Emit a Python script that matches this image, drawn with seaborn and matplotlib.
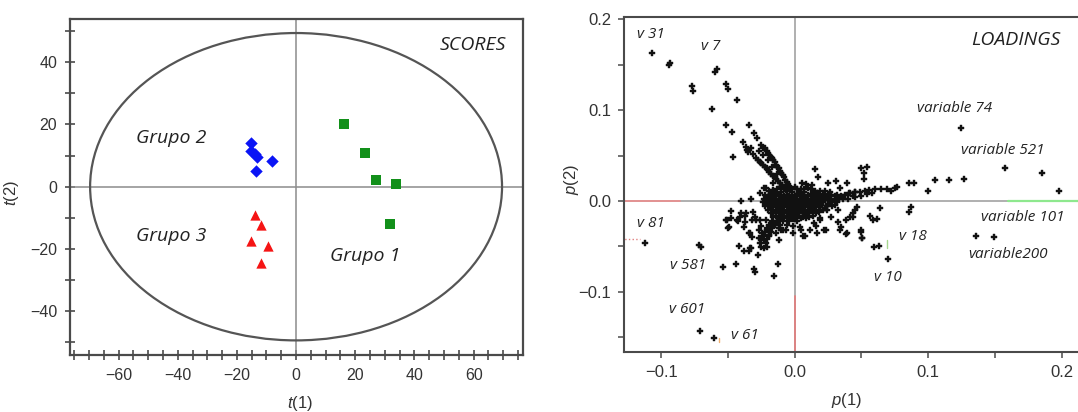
import numpy as np
import pandas as pd
import matplotlib
matplotlib.use("Agg")
import matplotlib.pyplot as plt
from matplotlib.patches import Ellipse
from matplotlib.ticker import MultipleLocator, FixedLocator, FuncFormatter
import seaborn as sns

# ---------------- data: SCORES ----------------
g1_x = [16.3, 23.3, 27.0, 33.9, 31.7]
g1_y = [20.0, 10.9, 2.3, 0.8, -12.0]
g2_x = [-15.2, -15.4, -14.0, -13.1, -8.3, -13.6]
g2_y = [14.0, 11.6, 10.5, 9.7, 8.2, 5.1]
g3_x = [-13.8, -11.7, -15.4, -9.4, -11.7]
g3_y = [-9.1, -12.4, -17.5, -19.0, -24.4]
group_names = ["Grupo 1", "Grupo 2", "Grupo 3"]

# ---------------- data: LOADINGS ----------------
outer_x = [-0.1068, -0.0935, -0.094, -0.0768, -0.076, -0.060, -0.0585, -0.0518, -0.050, -0.0435,
           -0.0623, -0.0515, -0.034, -0.0467, -0.0305, -0.028, -0.039, -0.0368, -0.035, -0.046,
           -0.025, -0.0238, -0.1125, -0.0718, -0.0705, -0.0418, -0.0343, -0.033, -0.0275, -0.0535,
           -0.044, -0.0305, -0.030, -0.0713, -0.0605, -0.0129, -0.0157,
           0.1243, 0.1577, 0.1852, 0.1978, 0.1356, 0.1495, 0.1268, 0.1158, 0.105, 0.100, 0.0895,
           0.0858, 0.0697, 0.0858, 0.0875]
outer_y = [0.163, 0.152, 0.150, 0.127, 0.121, 0.142, 0.145, 0.129, 0.123, 0.111,
           0.101, 0.084, 0.084, 0.076, 0.0746, 0.069, 0.065, 0.060, 0.054, 0.049,
           0.0617, 0.058, -0.0466, -0.0485, -0.051, -0.0496, -0.0547, -0.052, -0.0595, -0.0723,
           -0.0697, -0.075, -0.078, -0.1435, -0.151, -0.0697, -0.083,
           0.080, 0.0367, 0.0312, 0.0113, -0.0385, -0.0393, 0.0242, 0.023, 0.023, 0.0113, 0.0195,
           0.020, -0.0638, -0.0124, -0.007]

arm_x = [-0.029, -0.026, -0.024, -0.021, -0.019, -0.016, -0.014, -0.011, -0.008,
         -0.022, -0.020, -0.018, -0.016, -0.014, -0.012, -0.010, -0.008, -0.006, -0.004,
         -0.036, -0.031, -0.027, -0.024, -0.020, -0.033, -0.017, -0.013,
         -0.0275, -0.025, -0.0225, -0.020, -0.0175, -0.015, -0.0125, -0.0095, -0.0065,
         -0.021, -0.019, -0.017, -0.015, -0.013, -0.011, -0.009, -0.007, -0.005, -0.003]
arm_y = [0.047, 0.043, 0.040, 0.036, 0.032, 0.028, 0.024, 0.020, 0.015,
         0.058, 0.053, 0.049, 0.045, 0.040, 0.036, 0.031, 0.026, 0.021, 0.016,
         0.056, 0.052, 0.055, 0.051, 0.045, 0.058, 0.037, 0.030,
         0.045, 0.0415, 0.038, 0.034, 0.030, 0.026, 0.022, 0.0175, 0.0125,
         0.0555, 0.051, 0.047, 0.0425, 0.038, 0.0335, 0.0285, 0.0235, 0.0185, 0.013]

mid_x = [-0.023, -0.0405, -0.0325, -0.048, -0.051, -0.0435, -0.049, -0.038, -0.0375, -0.031,
         -0.029, -0.0335, -0.0255, -0.0363, -0.041, -0.0213, -0.0163, -0.0175, -0.026,
         -0.027, -0.0244, -0.0232, -0.0219, -0.0193, -0.027, -0.025, -0.0206, -0.018, -0.0141,
         -0.0116, -0.0103, -0.0141, -0.0116, -0.0219, -0.0257, -0.0296, -0.0322, -0.0373, -0.0424,
         -0.0476, -0.0515, -0.0502, -0.0399, -0.0342, -0.0334, -0.0378, -0.0322, -0.0232, -0.0206,
         0.0064, -0.0013, -0.0064, 0.0039, 0.0116, 0.0141, 0.0193, 0.027, 0.0322, 0.0347,
         0.0386, 0.0412, 0.0437, 0.045, 0.0463, 0.0322, 0.0244, 0.0219, 0.0167, 0.0386,
         0.0494, 0.0502, 0.0438, 0.050, 0.0505, 0.0593, 0.0633, 0.0563, 0.0588, 0.0617, 0.0638,
         0.005, 0.0075, -0.0013, -0.0088, -0.0163, 0.0163, 0.0238, 0.0338, 0.0388, 0.0088, 0.0188,
         0.015, 0.0175, 0.0058, 0.0088, 0.0133, 0.025, 0.0313, 0.0388, 0.0338, 0.0263, 0.0413,
         0.045, 0.050, 0.0538, 0.0518, 0.0518,
         0.041, 0.045, 0.049, 0.0525, 0.056, 0.060, 0.065, 0.0688, 0.0725, 0.0763, 0.075,
         0.045, 0.038, 0.036, 0.040, 0.044, 0.050, 0.054, 0.058]
mid_y = [0.014, 0.0003, 0.002, -0.0107, -0.021, -0.021, -0.029, -0.029, -0.017, -0.012,
         -0.021, -0.035, -0.028, -0.0135, -0.0173, 0.014, 0.0195, 0.0085, 0.0085,
         -0.0318, -0.0355, -0.0429, -0.0466, -0.0374, -0.0411, -0.0503, -0.0318, -0.0282, -0.0246,
         -0.0209, -0.0318, -0.0355, -0.0429, -0.0209, -0.0209, -0.0172, -0.0209, -0.0227, -0.0216,
         -0.019, -0.0209, -0.030, -0.0136, -0.0355, -0.052, -0.0546, -0.0392, -0.052, -0.0503,
         -0.0385, -0.0355, -0.0318, -0.0282, -0.0318, -0.0246, -0.019, -0.0172, -0.0227, -0.0282,
         -0.0209, -0.0172, -0.0136, -0.0099, -0.0062, -0.0099, -0.0099, -0.0318, -0.0355, -0.036,
         -0.0319, -0.0411, -0.018, -0.0338, -0.041, -0.0503, -0.049, -0.0165, -0.021, -0.020, -0.008,
         -0.032, -0.039, -0.028, -0.032, -0.0246, -0.028, -0.032, -0.032, -0.0356, -0.019, -0.021,
         0.0349, 0.0268, 0.0195, 0.0187, 0.0176, 0.0195, 0.0224, 0.0195, 0.014, 0.0103, 0.0085,
         0.0103, 0.036, 0.0378, 0.0312, 0.0242,
         0.0085, 0.010, 0.0096, 0.011, 0.012, 0.013, 0.0129, 0.013, 0.0113, 0.0157, 0.014,
         0.0047, 0.007, 0.004, 0.002, 0.006, 0.005, 0.008, 0.009]

core_x = [-0.016, -0.011, -0.006, 0.000, 0.005, 0.010, 0.015,
          -0.018, -0.014, -0.010, -0.006, -0.002, 0.003, 0.007, 0.012, 0.017, 0.021, 0.026,
          -0.020, -0.016, -0.012, -0.008, -0.004, 0.000, 0.004, 0.008, 0.012, 0.016, 0.020, 0.025, 0.030, 0.035,
          -0.021, -0.017, -0.013, -0.009, -0.005, -0.001, 0.003, 0.007, 0.011, 0.015, 0.019, 0.023, 0.028, 0.033,
          -0.020, -0.016, -0.012, -0.008, -0.004, 0.000, 0.004, 0.008, 0.012, 0.016, 0.020, 0.025, 0.030,
          -0.018, -0.014, -0.010, -0.006, -0.002, 0.002, 0.006, 0.010, 0.014, 0.018, 0.023,
          -0.016, -0.012, -0.008, -0.004, 0.000, 0.004, 0.008, 0.013, 0.018,
          -0.014, -0.010, -0.006, -0.002, 0.003, 0.008, 0.014,
          -0.011, -0.006, -0.001, 0.005]
core_y = [0.012, 0.015, 0.016, 0.015, 0.013, 0.014, 0.011,
          0.008, 0.009, 0.010, 0.011, 0.010, 0.009, 0.010, 0.008, 0.009, 0.007, 0.008,
          0.004, 0.005, 0.006, 0.005, 0.006, 0.005, 0.006, 0.004, 0.005, 0.004, 0.005, 0.004, 0.005, 0.006,
          0.000, 0.001, 0.000, 0.001, 0.000, 0.001, 0.000, 0.001, 0.000, 0.001, 0.000, 0.001, 0.000, 0.002,
          -0.004, -0.003, -0.004, -0.003, -0.004, -0.003, -0.004, -0.003, -0.004, -0.003, -0.004, -0.003, -0.004,
          -0.008, -0.007, -0.008, -0.007, -0.008, -0.007, -0.008, -0.007, -0.008, -0.007, -0.008,
          -0.012, -0.011, -0.012, -0.011, -0.012, -0.011, -0.012, -0.011, -0.012,
          -0.016, -0.015, -0.016, -0.015, -0.016, -0.015, -0.016,
          -0.020, -0.019, -0.020, -0.019]

core2_x = [-0.013, -0.008, -0.003, 0.002, 0.007, 0.012,
           -0.019, -0.016, 0.019, 0.023,
           -0.022, -0.018, -0.014, -0.010, -0.006, -0.002, 0.002, 0.006, 0.010, 0.014, 0.018, 0.022, 0.027, 0.032,
           -0.023, -0.019, -0.015, -0.011, -0.007, -0.003, 0.001, 0.005, 0.009, 0.013, 0.017, 0.021, 0.025, 0.030, 0.036,
           -0.024, -0.019, -0.015, -0.011, -0.007, -0.003, 0.001, 0.005, 0.009, 0.013, 0.017, 0.021, 0.027, 0.032,
           -0.022, -0.017, -0.013, -0.009, -0.005, -0.001, 0.003, 0.007, 0.011, 0.015, 0.019, 0.024, 0.028,
           -0.020, -0.016, -0.012, -0.008, -0.004, 0.000, 0.004, 0.008, 0.012, 0.016, 0.021,
           -0.018, -0.014, -0.010, -0.006, -0.002, 0.002, 0.006, 0.011, 0.016,
           -0.016, -0.012, -0.008, -0.004, 0.001, 0.006, 0.011,
           -0.017, -0.013, -0.009, -0.004, 0.002,
           -0.019, -0.015, -0.011, -0.006,
           -0.021, -0.017, -0.012,
           -0.022, -0.018, -0.024, -0.019, -0.025, -0.021, -0.026]
core2_y = [0.0135, 0.0135, 0.0135, 0.0135, 0.0135, 0.0135,
           0.0105, 0.0105, 0.0105, 0.0105,
           0.0065, 0.0065, 0.0065, 0.0065, 0.0065, 0.0065, 0.0065, 0.0065, 0.0065, 0.0065, 0.0065, 0.0065, 0.0065, 0.0065,
           0.0025, 0.0025, 0.0025, 0.0025, 0.0025, 0.0025, 0.0025, 0.0025, 0.0025, 0.0025, 0.0025, 0.0025, 0.0025, 0.0025, 0.0025,
           -0.0015, -0.0015, -0.0015, -0.0015, -0.0015, -0.0015, -0.0015, -0.0015, -0.0015, -0.0015, -0.0015, -0.0015, -0.0015, -0.0015,
           -0.0055, -0.0055, -0.0055, -0.0055, -0.0055, -0.0055, -0.0055, -0.0055, -0.0055, -0.0055, -0.0055, -0.0055, -0.0055,
           -0.0095, -0.0095, -0.0095, -0.0095, -0.0095, -0.0095, -0.0095, -0.0095, -0.0095, -0.0095, -0.0095,
           -0.0135, -0.0135, -0.0135, -0.0135, -0.0135, -0.0135, -0.0135, -0.0135, -0.0135,
           -0.0175, -0.0175, -0.0175, -0.0175, -0.0175, -0.0175, -0.0175,
           -0.022, -0.022, -0.022, -0.022, -0.022,
           -0.026, -0.026, -0.026, -0.026,
           -0.030, -0.030, -0.030,
           -0.034, -0.034, -0.038, -0.038, -0.042, -0.042, -0.046]

label_text = ["v 31", "v 7", "variable 74", "variable 521", "variable 101", "variable200",
              "v 81", "v 18", "v 581", "v 10", "v 601", "v 61"]
label_x = [-0.1075, -0.063, 0.120, 0.156, 0.171, 0.1595, -0.108, 0.0882, -0.0798, 0.0695, -0.0805, -0.0373]
label_y = [0.183, 0.170, 0.102, 0.0554, -0.018, -0.0584, -0.0253, -0.0393, -0.0712, -0.084, -0.119, -0.1476]

# ---------------- style ----------------
sns.set_style("white")
plt.rcParams["font.family"] = ["Liberation Sans", "DejaVu Sans"]
plt.rcParams["mathtext.fontset"] = "custom"
plt.rcParams["mathtext.it"] = "Liberation Sans:italic"
plt.rcParams["mathtext.rm"] = "Liberation Sans"

fig = plt.figure(figsize=(10.78, 4.12), dpi=100)
ax1 = fig.add_axes([0.0652, 0.1383, 0.4200, 0.8155])
ax2 = fig.add_axes([0.5788, 0.1456, 0.4212, 0.8143])

spine_c = "#4a4a4a"
tick_c = "#333333"

# ---------------- SCORES ----------------
scores = pd.DataFrame({
    "t1": g1_x + g2_x + g3_x,
    "t2": g1_y + g2_y + g3_y,
    "group": [group_names[0]] * len(g1_x) + [group_names[1]] * len(g2_x) + [group_names[2]] * len(g3_x),
})
ax1.axhline(0, color="#8c8c8c", lw=1.1, zorder=1)
ax1.axvline(0, color="#8c8c8c", lw=1.1, zorder=1)
ax1.add_patch(Ellipse((0, 0), 2 * 69.6, 2 * 49.4, fill=False, edgecolor="#555555", lw=1.6, zorder=2))
sizes = {"Grupo 1": 48, "Grupo 2": 40, "Grupo 3": 55}
for g, m, c in zip(group_names, ["s", "D", "^"], ["#12901a", "#0a14f5", "#f51414"]):
    sns.scatterplot(data=scores[scores.group == g], x="t1", y="t2", marker=m, color=c,
                    s=sizes[g], linewidth=0, ax=ax1, zorder=3, legend=False)
ax1.set_xlim(-76.3, 76.7)
ax1.set_ylim(-54.1, 53.9)
ax1.set_xticks([-60, -40, -20, 0, 20, 40, 60])
ax1.xaxis.set_minor_locator(MultipleLocator(5))
ax1.set_yticks([-40, -20, 0, 20, 40])
ax1.yaxis.set_minor_locator(MultipleLocator(10))
ax1.tick_params(axis="both", which="both", direction="inout", length=7, width=1.2,
                color=spine_c, labelsize=11.5, labelcolor=tick_c, bottom=True, left=True, pad=6)
for sp in ax1.spines.values():
    sp.set_color(spine_c)
    sp.set_linewidth(1.6)
ax1.set_xlabel("$t$(1)", fontsize=12, color=tick_c)
ax1.set_ylabel("$t$(2)", fontsize=12, color=tick_c)
ax1.xaxis.set_label_coords(0.507, -0.117)
ax1.yaxis.set_label_coords(-0.108, 0.482)

tfont = dict(family=["Open Sans", "DejaVu Sans"], style="italic", color="#222222")
ax1.text(59.6, 45.7, "SCORES", fontsize=14, ha="center", va="center", **tfont)
ax1.text(-42.3, 15.8, "Grupo 2", fontsize=14, ha="center", va="center", **tfont)
ax1.text(-42.3, -15.9, "Grupo 3", fontsize=14, ha="center", va="center", **tfont)
ax1.text(23.3, -22.4, "Grupo 1", fontsize=14, ha="center", va="center", **tfont)

# ---------------- LOADINGS ----------------
load = pd.DataFrame({
    "p1": outer_x + arm_x + mid_x + core_x + core2_x,
    "p2": outer_y + arm_y + mid_y + core_y + core2_y,
})
ax2.axhline(0, color="#9a9a9a", lw=1.1, zorder=1)
ax2.axvline(0, color="#9a9a9a", lw=1.1, zorder=1)
ax2.plot([-0.13, -0.086], [0, 0], color="#e89090", lw=1.3, zorder=1.5)
ax2.plot([0.160, 0.22], [0, 0], color="#8ee88e", lw=1.6, zorder=1.5)
ax2.plot([0, 0], [-0.105, -0.17], color="#e08080", lw=1.3, zorder=1.5)
ax2.plot([-0.13, -0.116], [-0.042, -0.042], color="#e08080", lw=1.0, ls=":", zorder=1.5)
ax2.plot([0.0688, 0.0688], [-0.043, -0.052], color="#a8d890", lw=1.0, zorder=1.5)
ax2.plot([-0.0565, -0.0565], [-0.151, -0.155], color="#f0b070", lw=1.0, zorder=1.5)
sns.scatterplot(data=load, x="p1", y="p2", marker="P", color="#111111", s=16,
                linewidth=0.3, edgecolor="#111111", ax=ax2, zorder=3, legend=False)
ax2.set_xlim(-0.128, 0.2123)
ax2.set_ylim(-0.1663, 0.2032)
ax2.xaxis.set_major_locator(FixedLocator([-0.1, 0.0, 0.1, 0.2]))
ax2.yaxis.set_major_locator(FixedLocator([-0.1, 0.0, 0.1, 0.2]))
ax2.xaxis.set_minor_locator(MultipleLocator(0.05))
ax2.yaxis.set_minor_locator(MultipleLocator(0.05))
fmt = FuncFormatter(lambda v, p: ("%.1f" % v).replace("-", "\u2212"))
ax2.xaxis.set_major_formatter(fmt)
ax2.yaxis.set_major_formatter(fmt)
ax2.tick_params(axis="both", which="both", direction="out", length=4, width=1.1,
                color=spine_c, labelsize=12, labelcolor=tick_c, bottom=True, left=True, pad=5)
for name, sp in ax2.spines.items():
    sp.set_color(spine_c)
    sp.set_linewidth(1.5)
ax2.spines["right"].set_visible(False)
ax2.set_xlabel("$p$(1)", fontsize=12, color=tick_c)
ax2.set_ylabel("$p$(2)", fontsize=12, color=tick_c)
ax2.xaxis.set_label_coords(0.491, -0.117)
ax2.yaxis.set_label_coords(-0.095, 0.513)

ax2.text(0.166, 0.177, "LOADINGS", fontsize=14, ha="center", va="center", **tfont)
for t, x, y in zip(label_text, label_x, label_y):
    ax2.text(x, y, t, fontsize=11, ha="center", va="center", **tfont)

fig.savefig("out.png", dpi=100)
